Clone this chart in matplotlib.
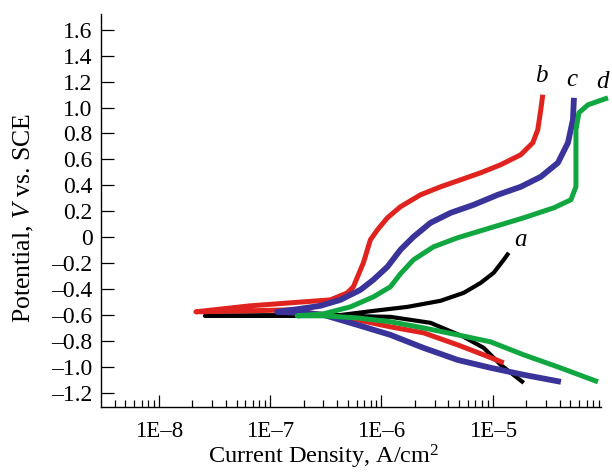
import numpy as np
import matplotlib
matplotlib.use("Agg")
import matplotlib.pyplot as plt
from matplotlib.ticker import FixedLocator, FixedFormatter, NullFormatter

plt.rcParams['font.family'] = ['Liberation Serif', 'DejaVu Serif']
plt.rcParams['mathtext.fontset'] = 'custom'
plt.rcParams['mathtext.rm'] = 'Liberation Serif'
plt.rcParams['mathtext.it'] = 'Liberation Serif:italic'

# log10 of current density (A/cm2) and potential (V vs SCE)
# each curve: cathodic branch (end -> Ecorr) followed by anodic branch (Ecorr -> end)
a_logi = [-4.721, -4.928, -5.081, -5.261, -5.559, -5.919, -6.369, -7.586,
          -6.369, -6.072, -5.766, -5.468, -5.261, -5.108, -4.991, -4.901, -4.856]
a_pot = [-1.123, -0.984, -0.853, -0.768, -0.660, -0.614, -0.606, -0.606,
         -0.600, -0.568, -0.537, -0.490, -0.429, -0.352, -0.274, -0.174, -0.120]

b_logi = [-4.901, -5.081, -5.315, -5.622, -5.919, -6.216, -6.820, -7.180, -7.667,
          -7.180, -6.820, -6.459, -6.306, -6.252, -6.162, -6.099, -6.036, -5.946,
          -5.829, -5.649, -5.468, -5.288, -5.108, -4.928, -4.748, -4.640, -4.595,
          -4.568, -4.550]
b_pot = [-0.969, -0.907, -0.830, -0.737, -0.691, -0.637, -0.560, -0.567, -0.575,
         -0.529, -0.506, -0.483, -0.429, -0.382, -0.197, -0.020, 0.057, 0.150,
         0.235, 0.327, 0.389, 0.443, 0.497, 0.559, 0.636, 0.728, 0.829,
         0.983, 1.099]

c_logi = [-4.387, -4.721, -5.018, -5.315, -5.622, -5.919, -6.216, -6.523, -6.730, -6.937,
          -6.730, -6.550, -6.369, -6.189, -6.072, -5.946, -5.829, -5.712, -5.559,
          -5.378, -5.171, -4.955, -4.748, -4.568, -4.414, -4.324, -4.279, -4.270]
c_pot = [-1.115, -1.061, -1.007, -0.946, -0.853, -0.753, -0.676, -0.598, -0.583, -0.575,
         -0.552, -0.529, -0.483, -0.406, -0.328, -0.228, -0.097, 0.003, 0.111,
         0.188, 0.250, 0.327, 0.389, 0.466, 0.574, 0.728, 0.906, 1.075]

d_logi = [-4.054, -4.414, -4.721, -5.018, -5.315, -5.622, -5.919, -6.216, -6.523, -6.757,
          -6.523, -6.279, -6.072, -5.919, -5.829, -5.712, -5.532, -5.315, -5.018,
          -4.721, -4.450, -4.297, -4.252, -4.252, -4.252, -4.225, -4.144, -3.964]
d_pot = [-1.115, -1.000, -0.907, -0.807, -0.753, -0.699, -0.652, -0.622, -0.606, -0.606,
         -0.591, -0.537, -0.460, -0.382, -0.282, -0.174, -0.074, -0.004, 0.073,
         0.150, 0.227, 0.289, 0.389, 0.620, 0.829, 0.960, 1.021, 1.075]

curve_names = ['a', 'b', 'c', 'd']
curve_colors = ['#000000', '#e0231e', '#3a3399', '#10a640']
label_logi = [-4.748, -4.56, -4.29, -4.01]
label_pot = [-0.02, 1.24, 1.21, 1.20]

y_ticks = [1.6, 1.4, 1.2, 1.0, 0.8, 0.6, 0.4, 0.2, 0, -0.2, -0.4, -0.6, -0.8, -1.0, -1.2]
y_labels = ['1.6', '1.4', '1.2', '1.0', '0.8', '0.6', '0.4', '0.2', '0',
            '\u20130.2', '\u20130.4', '\u20130.6', '\u20130.8', '\u20131.0', '\u20131.2']
x_ticks = [1e-8, 1e-7, 1e-6, 1e-5]
x_labels = ['1E\u20138', '1E\u20137', '1E\u20136', '1E\u20135']

fig = plt.figure(figsize=(6.12, 4.72), dpi=100)
ax = fig.add_axes([0.165, 0.138, 0.817, 0.832])

series = [(a_logi, a_pot), (b_logi, b_pot), (c_logi, c_pot), (d_logi, d_pot)]
widths = [3.0, 3.6, 4.2, 3.6]
for (li, pv), col, lw in zip(series, curve_colors, widths):
    ax.plot(10 ** np.array(li), pv, color=col, lw=lw, solid_capstyle='butt',
            solid_joinstyle='round', clip_on=False)

for name, lx, ly in zip(curve_names, label_logi, label_pot):
    ax.text(10 ** lx, ly, name, fontsize=18, style='italic', ha='center', va='center',
            clip_on=False)

ax.set_xscale('log')
ax.set_xlim(10 ** -8.52, 10 ** -4.027)
ax.set_ylim(-1.308, 1.72)

ax.xaxis.set_major_locator(FixedLocator(x_ticks))
ax.xaxis.set_major_formatter(FixedFormatter(x_labels))
minor = [m * 10.0 ** e for e in range(-9, -4) for m in range(2, 10)]
ax.xaxis.set_minor_locator(FixedLocator(minor))
ax.xaxis.set_minor_formatter(NullFormatter())
ax.yaxis.set_major_locator(FixedLocator(y_ticks))
ax.yaxis.set_major_formatter(FixedFormatter(y_labels))

ax.tick_params(axis='both', which='major', direction='in', length=9, width=0.9,
               labelsize=17)
ax.tick_params(axis='x', which='major', labelsize=16.5)
ax.tick_params(axis='y', which='major', pad=6)
ax.tick_params(axis='x', which='major', pad=10)
ax.tick_params(axis='x', which='minor', direction='in', length=5, width=0.9)
ax.spines['top'].set_visible(False)
ax.spines['right'].set_visible(False)
for s in ['left', 'bottom']:
    ax.spines[s].set_linewidth(1.0)

ax.set_xlabel('Current Density, A/cm$^2$', fontsize=17.5)
ax.set_ylabel('Potential, $V$ vs. SCE', fontsize=18.5)
ax.xaxis.set_label_coords(0.445, -0.092)
ax.yaxis.set_label_coords(-0.13, 0.48)

fig.savefig('out.png', dpi=100)
